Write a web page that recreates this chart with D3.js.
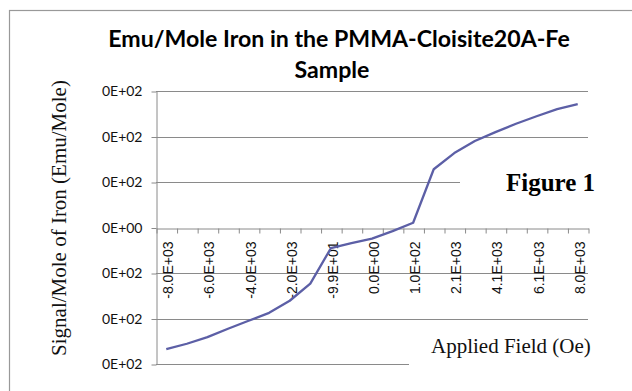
<!DOCTYPE html>
<html>
<head>
<meta charset="utf-8">
<script src="https://cdn.jsdelivr.net/npm/d3@7/dist/d3.min.js"></script>
<style>
  html, body { margin: 0; padding: 0; background: #fff; }
  svg { display: block; }
</style>
</head>
<body>
<svg id="chart" width="632" height="391"></svg>
<script>
// Applied field categories (Oe), one per measurement
const fieldLabels = [
  "-8.0E+03", "-7.0E+03", "-6.0E+03", "-5.0E+03", "-4.0E+03", "-3.0E+03",
  "-2.0E+03", "-1.0E+03", "-9.9E+01", "-5.0E+01", "0.0E+00", "5.0E+01",
  "1.0E+02", "1.1E+03", "2.1E+03", "3.1E+03", "4.1E+03", "5.1E+03",
  "6.1E+03", "7.1E+03", "8.0E+03"
];
// Signal per mole of iron (emu/mole)
const signal = [
  -535, -511, -482, -445, -410, -375, -322, -247, -91, -69, -49, -16,
  21, 256, 327, 380, 419, 456, 489, 520, 542
];
// Value axis ticks and their printed labels
const yTicks = [-600, -400, -200, 0, 200, 400, 600];
const yTickLabels = ["0E+02", "0E+02", "0E+02", "0E+00", "0E+02", "0E+02", "0E+02"];

const titleLines = ["Emu/Mole Iron in the PMMA-Cloisite20A-Fe", "Sample"];
const yTitle = "Signal/Mole of Iron (Emu/Mole)";
const xTitle = "Applied Field (Oe)";
const figureLabel = "Figure 1";

const svg = d3.select("#chart");
const grey = "#8a8a8a";
const plot = { left: 156, right: 588, top: 91, bottom: 364 };

// outer chart frame
svg.append("rect")
  .attr("x", 9.5).attr("y", 10.5)
  .attr("width", 700).attr("height", 500)
  .attr("fill", "#fff").attr("stroke", "#999").attr("stroke-width", 1.2);

const x = d3.scaleBand().domain(fieldLabels).range([plot.left, plot.right]).padding(0);
const xEdge = d3.scaleLinear().domain([0, fieldLabels.length]).range([plot.left, plot.right]);
const y = d3.scaleLinear().domain([-600, 600]).range([plot.bottom, plot.top]);

// horizontal gridlines
svg.append("g").selectAll("line")
  .data(yTicks.filter(v => v !== 0))
  .join("line")
  .attr("x1", plot.left).attr("x2", plot.right)
  .attr("y1", d => Math.round(y(d)) + 0.5).attr("y2", d => Math.round(y(d)) + 0.5)
  .attr("stroke", grey).attr("stroke-width", 1);

// value axis
const yAxis = svg.append("g")
  .attr("transform", `translate(${plot.left + 0.5},0.5)`)
  .call(d3.axisLeft(y).tickValues(yTicks)
    .tickFormat((d, i) => yTickLabels[i])
    .tickSize(5).tickSizeOuter(0).tickPadding(9));
yAxis.select(".domain").attr("stroke", grey);
yAxis.selectAll(".tick line").attr("stroke", grey);
yAxis.selectAll(".tick text")
  .attr("font-family", "Lato, 'Open Sans', sans-serif")
  .attr("font-size", 14).attr("fill", "#111");

// category axis on the zero line: tick marks between categories
const x0 = Math.round(y(0)) + 0.5;
const xAxis = svg.append("g")
  .attr("transform", `translate(0.5,${x0})`)
  .call(d3.axisBottom(xEdge).tickValues(d3.range(fieldLabels.length + 1))
    .tickFormat("").tickSize(5).tickSizeOuter(0));
xAxis.select(".domain").attr("stroke", grey);
xAxis.selectAll(".tick line").attr("stroke", grey);

// category labels, every other one, rotated
const xLab = svg.append("g")
  .attr("transform", `translate(2,${x0})`)
  .call(d3.axisBottom(x).tickValues(fieldLabels.filter((d, i) => i % 2 === 0)).tickSize(0));
xLab.select(".domain").remove();
xLab.selectAll(".tick text")
  .attr("transform", "rotate(-90)")
  .attr("text-anchor", "end")
  .attr("x", -13).attr("y", 0).attr("dy", "0.36em")
  .attr("font-family", "'Liberation Sans', Arial, sans-serif")
  .attr("font-size", 14).attr("fill", "#111");

// data line
const line = d3.line()
  .x((d, i) => x(fieldLabels[i]) + x.bandwidth() / 2)
  .y(d => y(d));
svg.append("path")
  .datum(signal)
  .attr("d", line)
  .attr("fill", "none")
  .attr("stroke", "#5c5fa6")
  .attr("stroke-width", 2.3)
  .attr("stroke-linejoin", "round");

// chart title, fitted to its width
const titleCenters = [339, 332];
const titleBase = [46.5, 77.5];
const t1 = svg.append("text")
  .attr("x", titleCenters[0]).attr("y", titleBase[0])
  .attr("text-anchor", "middle")
  .attr("font-family", "Lato, 'Open Sans', sans-serif")
  .attr("font-weight", "bold").attr("font-size", 20)
  .attr("fill", "#000")
  .text(titleLines[0]);
const w1 = t1.node().getComputedTextLength();
const titleSize = 20 * 462 / w1;
t1.attr("font-size", titleSize);
svg.append("text")
  .attr("x", titleCenters[1]).attr("y", titleBase[1])
  .attr("text-anchor", "middle")
  .attr("font-family", "Lato, 'Open Sans', sans-serif")
  .attr("font-weight", "bold").attr("font-size", titleSize)
  .attr("fill", "#000")
  .text(titleLines[1]);

// value axis title
svg.append("text")
  .attr("transform", "translate(66,218) rotate(-90)")
  .attr("text-anchor", "middle")
  .attr("font-family", "'Liberation Serif', 'Times New Roman', serif")
  .attr("font-size", 21).attr("fill", "#111")
  .text(yTitle);

// text boxes with white fill that sit over the gridlines
svg.append("rect")
  .attr("x", 460).attr("y", 152).attr("width", 160).attr("height", 62)
  .attr("fill", "#fff");
svg.append("text")
  .attr("x", 506).attr("y", 190.5)
  .attr("font-family", "'Liberation Serif', 'Times New Roman', serif")
  .attr("font-weight", "bold").attr("font-size", 25).attr("fill", "#000")
  .text(figureLabel);

svg.append("rect")
  .attr("x", 409).attr("y", 326).attr("width", 210).attr("height", 50)
  .attr("fill", "#fff");
svg.append("text")
  .attr("x", 431).attr("y", 352.5)
  .attr("font-family", "'Liberation Serif', 'Times New Roman', serif")
  .attr("font-size", 21).attr("fill", "#111")
  .text(xTitle);
</script>
</body>
</html>
